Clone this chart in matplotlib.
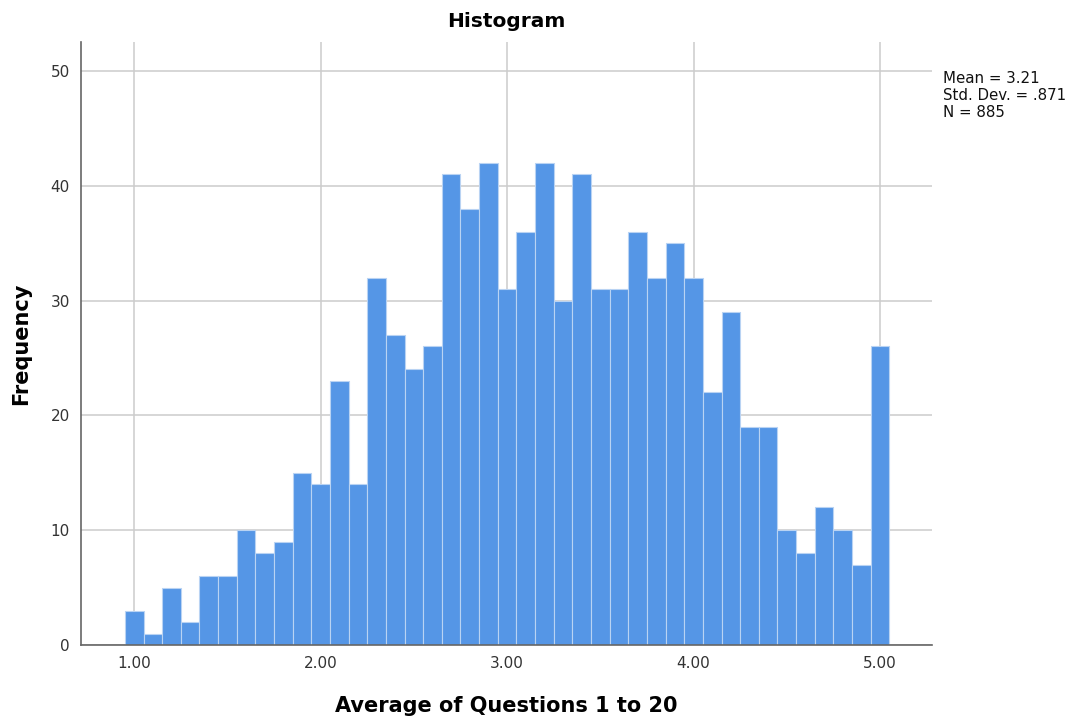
"""SPSS-style histogram of the average score over questions 1-20."""
import numpy as np
import matplotlib
matplotlib.use('Agg')
import matplotlib.pyplot as plt

# bin centres (width 0.1) and counts
bin_centres = [1.0, 1.1, 1.2, 1.3, 1.4, 1.5, 1.6, 1.7, 1.8, 1.9,
               2.0, 2.1, 2.2, 2.3, 2.4, 2.5, 2.6, 2.7, 2.8, 2.9,
               3.0, 3.1, 3.2, 3.3, 3.4, 3.5, 3.6, 3.7, 3.8, 3.9,
               4.0, 4.1, 4.2, 4.3, 4.4, 4.5, 4.6, 4.7, 4.8, 4.9, 5.0]
counts = [3, 1, 5, 2, 6, 6, 10, 8, 9, 15,
          14, 23, 14, 32, 27, 24, 26, 41, 38, 42,
          31, 36, 42, 30, 41, 31, 31, 36, 32, 35,
          32, 22, 29, 19, 19, 10, 8, 12, 10, 7, 26]
x_ticks = [1.0, 2.0, 3.0, 4.0, 5.0]
x_ticklabels = ['1.00', '2.00', '3.00', '4.00', '5.00']
y_ticks = [0, 10, 20, 30, 40, 50]
stats_text = 'Mean = 3.21\nStd. Dev. = .871\nN = 885'

plt.rcParams['font.family'] = ['DejaVu Sans']

fig = plt.figure(figsize=(10.72, 7.2), dpi=100)
ax = fig.add_axes([0.0756, 0.104, 0.794, 0.8375])

ax.bar(bin_centres, counts, width=0.1, color='#5596e6', edgecolor='#b9d3f3',
       linewidth=0.8, zorder=3)

ax.set_xlim(0.715, 5.28)
ax.set_ylim(0, 52.5)
ax.set_xticks(x_ticks)
ax.set_xticklabels(x_ticklabels)
ax.set_yticks(y_ticks)
ax.tick_params(length=0, labelsize=11, colors='#333333', pad=8)

ax.grid(True, color='#cccccc', lw=1.1, zorder=0)
for s in ['top', 'right']:
    ax.spines[s].set_visible(False)
for s in ['left', 'bottom']:
    ax.spines[s].set_color('#666666')
    ax.spines[s].set_linewidth(1.2)
    ax.spines[s].set_zorder(4)

ax.set_title('Histogram', fontsize=14.5, fontweight='bold', pad=11)
ax.set_xlabel('Average of Questions 1 to 20', fontsize=15, fontweight='bold', labelpad=18)
ax.set_ylabel('Frequency', fontsize=15, fontweight='bold', labelpad=14)

fig.text(0.88, 0.902, stats_text, fontsize=10.8, va='top', ha='left',
         linespacing=1.17, color='#111111')

plt.savefig('out.png', dpi=100)
plt.close()
